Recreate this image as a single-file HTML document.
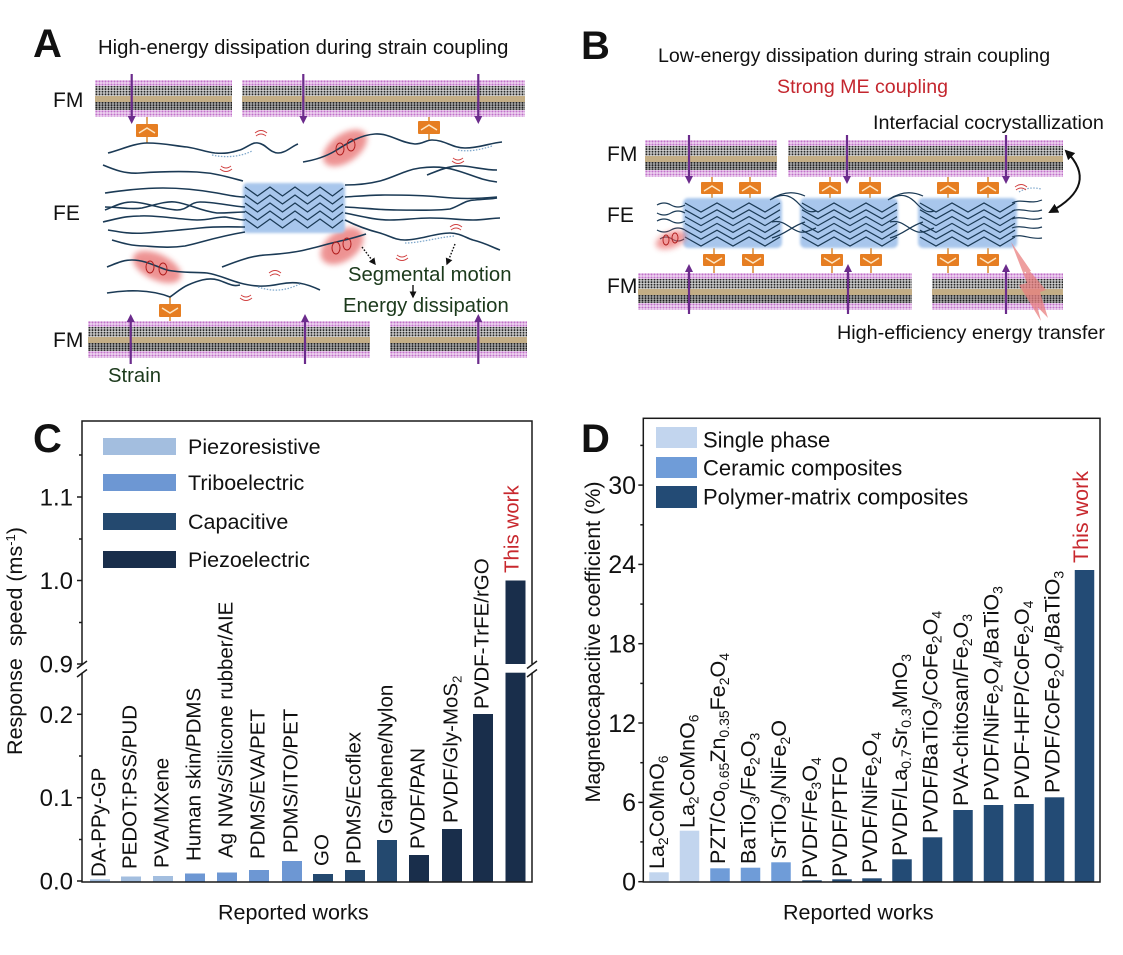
<!DOCTYPE html>
<html><head><meta charset="utf-8"><style>
html,body{margin:0;padding:0;background:#fff;}
svg{display:block;}
text{font-family:"Liberation Sans",Arial,sans-serif;fill:#111;}
</style></head><body>
<svg width="1123" height="955" viewBox="0 0 1123 955" xmlns="http://www.w3.org/2000/svg">
<defs>
<pattern id="pk" width="3" height="3" patternUnits="userSpaceOnUse"><rect width="3" height="3" fill="#efd6f1"/><circle cx="1.5" cy="1.5" r="1.05" fill="#c070c9"/></pattern>
<pattern id="dk" width="3" height="2.6" patternUnits="userSpaceOnUse"><rect width="3" height="2.6" fill="#d2d2d2"/><circle cx="1.5" cy="1.3" r="1" fill="#262626"/></pattern>
<pattern id="dk2" width="3" height="2.4" patternUnits="userSpaceOnUse"><rect width="3" height="2.4" fill="#b0b0b0"/><circle cx="1.5" cy="1.2" r="1" fill="#1a1a1a"/></pattern>
<filter id="bl" x="-20%" y="-20%" width="140%" height="140%"><feGaussianBlur stdDeviation="1.3"/></filter>
<filter id="bl2" x="-50%" y="-50%" width="200%" height="200%"><feGaussianBlur stdDeviation="3"/></filter>
<marker id="ah" viewBox="0 0 10 10" refX="8" refY="5" markerWidth="5" markerHeight="5" orient="auto-start-reverse"><path d="M0,0 L10,5 L0,10 z" fill="#111"/></marker>
</defs>

<!-- ================= PANEL A ================= -->
<text x="33" y="57" font-size="40" font-weight="bold">A</text>
<text x="98" y="54" font-size="20.3">High-energy dissipation during strain coupling</text>
<text x="53" y="107" font-size="21">FM</text>
<text x="53" y="220" font-size="21">FE</text>
<text x="53" y="347" font-size="21">FM</text>

<g transform="translate(95,80)"><rect width="137" height="7" fill="url(#pk)"/><rect y="6" width="137" height="11" fill="url(#dk)"/><rect y="16" width="137" height="7" fill="#c4ae86"/><rect y="22" width="137" height="9" fill="url(#dk2)"/><rect y="30" width="137" height="7" fill="url(#pk)"/></g>
<g transform="translate(242,80)"><rect width="283" height="7" fill="url(#pk)"/><rect y="6" width="283" height="11" fill="url(#dk)"/><rect y="16" width="283" height="7" fill="#c4ae86"/><rect y="22" width="283" height="9" fill="url(#dk2)"/><rect y="30" width="283" height="7" fill="url(#pk)"/></g>
<g transform="translate(88,321)"><rect width="282" height="7" fill="url(#pk)"/><rect y="6" width="282" height="11" fill="url(#dk)"/><rect y="16" width="282" height="7" fill="#c4ae86"/><rect y="22" width="282" height="9" fill="url(#dk2)"/><rect y="30" width="282" height="7" fill="url(#pk)"/></g>
<g transform="translate(390,321)"><rect width="137" height="7" fill="url(#pk)"/><rect y="6" width="137" height="11" fill="url(#dk)"/><rect y="16" width="137" height="7" fill="#c4ae86"/><rect y="22" width="137" height="9" fill="url(#dk2)"/><rect y="30" width="137" height="7" fill="url(#pk)"/></g>

<g stroke="#6b2b8c" stroke-width="2.2" fill="#6b2b8c">
<line x1="131.7" y1="74" x2="131.7" y2="117"/><polygon stroke="none" points="127.7,116 135.7,116 131.7,124"/>
<line x1="303.3" y1="74" x2="303.3" y2="117"/><polygon stroke="none" points="299.3,116 307.3,116 303.3,124"/>
<line x1="478.3" y1="74" x2="478.3" y2="117"/><polygon stroke="none" points="474.3,116 482.3,116 478.3,124"/>
<line x1="130.7" y1="364" x2="130.7" y2="321"/><polygon stroke="none" points="126.7,322 134.7,322 130.7,314"/>
<line x1="305" y1="364" x2="305" y2="321"/><polygon stroke="none" points="301,322 309,322 305,314"/>
<line x1="478.3" y1="364" x2="478.3" y2="321"/><polygon stroke="none" points="474.3,322 482.3,322 478.3,314"/>
</g>

<g stroke="#d9892f" stroke-width="1.5">
<line x1="147" y1="117" x2="147" y2="143"/><line x1="429" y1="117" x2="429" y2="140"/><line x1="170" y1="296" x2="170" y2="321"/>
</g>
<g fill="#e67e22">
<rect x="136" y="124" width="22" height="13" rx="1"/><rect x="418" y="121" width="22" height="13" rx="1"/><rect x="159" y="304" width="22" height="13" rx="1"/>
</g>
<g fill="none" stroke="#fde7c4" stroke-width="1.5">
<polyline points="139,133 147,128 155,133"/><polyline points="421,130 429,125 437,130"/><polyline points="162,308 170,313 178,308"/>
</g>

<g fill="#e24c4c" opacity="0.6" filter="url(#bl2)">
<ellipse cx="345" cy="148" rx="25" ry="14" transform="rotate(-35 345 148)"/>
<ellipse cx="342" cy="246" rx="24" ry="15" transform="rotate(-35 342 246)"/>
<ellipse cx="157" cy="267" rx="26" ry="13" transform="rotate(25 157 267)"/>
</g>

<rect x="243" y="183" width="102" height="50" rx="4" fill="#a8c6ec" filter="url(#bl)"/>
<g fill="none" stroke="#1b3a55" stroke-width="1.3">
<polyline points="245,187 257.5,196 270,187 282.5,196 295,187 307.5,196 320,187 332.5,196 343,188"/>
<polyline points="245,195 257.5,204 270,195 282.5,204 295,195 307.5,204 320,195 332.5,204 343,196"/>
<polyline points="245,203 257.5,212 270,203 282.5,212 295,203 307.5,212 320,203 332.5,212 343,204"/>
<polyline points="245,211 257.5,220 270,211 282.5,220 295,211 307.5,220 320,211 332.5,220 343,212"/>
<polyline points="245,219 257.5,228 270,219 282.5,228 295,219 307.5,228 320,219 332.5,228 343,220"/>
</g>

<g fill="none" stroke="#1b3a55" stroke-width="1.6">
<path d="M108,153 C120,150 135,143 147,143 C165,143 175,146 187,147 C200,149 205,152 215,153 C228,154 232,152 240,150 C248,147 252,142 258,143 C266,144 270,153 278,153 C286,153 292,146 298,144"/>
<path d="M303,162 C315,160 325,157 335,151 C348,143 360,135 375,134 C390,133 400,143 415,144 C423,144 426,140 432,140 C445,140 452,148 465,148 C480,148 490,143 502,142"/>
<path d="M103,165 C115,170 125,174 140,173 C155,172 175,171 197,172 C215,173 228,177 243,181"/>
<path d="M105,193 C120,191 140,188 163,188 C180,188 200,190 217,193 C228,195 236,197 245,197"/>
<path d="M105,210 C115,206 122,202 132,202 C145,202 160,209 177,210 C188,210 190,202 200,202 C215,202 230,206 245,207"/>
<path d="M105,207 C120,207 130,210 142,208 C155,205 165,201 175,202 C190,204 200,211 217,213 C228,213 238,212 245,212"/>
<path d="M103,222 C115,219 125,216 140,216 C155,215 175,219 197,220 C210,220 215,217 225,217 C233,218 238,220 245,220"/>
<path d="M108,230 C120,232 130,234 145,233 C160,232 180,230 200,228 C220,226 235,227 245,227"/>
<path d="M112,240 C122,243 132,246 145,246 C160,247 170,248 185,246 C200,243 215,237 245,232"/>
<path d="M345,185 C358,185 368,184 380,181 C395,177 405,170 420,168 C435,166 445,167 455,170 C470,174 480,180 497,182"/>
<path d="M427,175 C440,170 450,165 463,166 C475,167 485,170 497,170"/>
<path d="M345,197 C360,196 370,195 385,195 C400,195 420,195 440,197 C460,199 475,199 497,197"/>
<path d="M345,207 C365,208 380,210 397,210 C415,210 435,211 450,209 C460,206 465,200 475,200 C485,199 492,199 497,198"/>
<path d="M345,213 C360,216 375,220 390,220 C405,220 415,218 430,218 C450,218 460,220 473,220 C485,220 492,218 500,218"/>
<path d="M345,220 C355,225 368,230 380,233 C390,236 395,240 405,240 C420,240 435,233 450,233 C460,233 466,238 473,240 C485,243 492,247 500,250"/>
<path d="M222,267 C235,262 250,256 265,255 C280,254 290,253 300,251 C315,248 330,243 345,240 C353,238 360,236 366,234"/>
<path d="M107,267 C115,264 122,260 132,260 C145,260 155,266 167,270 C180,273 195,272 207,273 C220,275 228,280 240,283 C255,287 265,287 280,284 C295,281 305,283 320,290"/>
<path d="M107,293 C125,290 150,289 170,297 C176,293 181,288 188,285 C197,281 208,277 218,280 C228,283 232,287 240,285"/>
</g>
<g fill="none" stroke="#7fa8cc" stroke-width="1.3" stroke-dasharray="1.5 1.5">
<path d="M212,155 C225,158 240,157 252,151"/><path d="M258,287 C273,292 285,291 300,284"/>
<path d="M405,243 C420,243 440,237 455,236"/><path d="M458,150 C468,152 480,150 492,146"/>
</g>
<g fill="none" stroke="#d04040" stroke-width="0.9">
<path d="M256,136 q5,-4 10,0 M255,133 q6,-5 12,0"/><path d="M221,166 q5,4 10,0 M220,169 q6,5 12,0"/>
<path d="M453,158 q5,4 10,0 M452,161 q6,5 12,0"/><path d="M397,255 q5,4 10,0 M396,258 q6,5 12,0"/>
<path d="M451,230 q5,-4 10,0 M450,227 q6,-5 12,0"/><path d="M270,276 q5,-4 10,0 M269,273 q6,-5 12,0"/>
<path d="M241,295 q5,4 10,0 M240,298 q6,5 12,0"/>
</g>
<g fill="none" stroke="#b01c1c" stroke-width="1">
<ellipse cx="340" cy="149" rx="4" ry="6"/><ellipse cx="351" cy="145" rx="4" ry="6"/>
<ellipse cx="336" cy="248" rx="4" ry="6"/><ellipse cx="347" cy="244" rx="4" ry="6"/>
<ellipse cx="150" cy="267" rx="4" ry="6"/><ellipse cx="163" cy="269" rx="4" ry="6"/>
</g>
<g stroke="#111" stroke-width="1.4" fill="none">
<path d="M362,247 L375,264" stroke-dasharray="1.6 1.6" marker-end="url(#ah)"/>
<path d="M455,244 L447,264" stroke-dasharray="1.6 1.6" marker-end="url(#ah)"/>
<path d="M413,285 L413,297" marker-end="url(#ah)"/>
</g>
<text x="348" y="281" font-size="20.3" style="fill:#1c3a1c">Segmental motion</text>
<text x="343" y="312" font-size="20.3" style="fill:#1c3a1c">Energy dissipation</text>
<text x="108" y="382" font-size="20.3" style="fill:#1c3a1c">Strain</text>

<!-- ================= PANEL B ================= -->
<text x="581" y="59" font-size="40" font-weight="bold">B</text>
<text x="658" y="62" font-size="19.6">Low-energy dissipation during strain coupling</text>
<text x="862.5" y="93" font-size="19.6" text-anchor="middle" style="fill:#c4262e">Strong ME coupling</text>
<text x="873" y="129" font-size="19.8">Interfacial cocrystallization</text>
<text x="607" y="161" font-size="21">FM</text>
<text x="607" y="222" font-size="21">FE</text>
<text x="607" y="293" font-size="21">FM</text>
<text x="837" y="339" font-size="19.8">High-efficiency energy transfer</text>

<g transform="translate(645,140)"><rect width="132" height="7" fill="url(#pk)"/><rect y="6" width="132" height="11" fill="url(#dk)"/><rect y="16" width="132" height="7" fill="#c4ae86"/><rect y="22" width="132" height="9" fill="url(#dk2)"/><rect y="30" width="132" height="7" fill="url(#pk)"/></g>
<g transform="translate(788,140)"><rect width="275" height="7" fill="url(#pk)"/><rect y="6" width="275" height="11" fill="url(#dk)"/><rect y="16" width="275" height="7" fill="#c4ae86"/><rect y="22" width="275" height="9" fill="url(#dk2)"/><rect y="30" width="275" height="7" fill="url(#pk)"/></g>
<g transform="translate(638,273)"><rect width="274" height="7" fill="url(#pk)"/><rect y="6" width="274" height="11" fill="url(#dk)"/><rect y="16" width="274" height="7" fill="#c4ae86"/><rect y="22" width="274" height="9" fill="url(#dk2)"/><rect y="30" width="274" height="7" fill="url(#pk)"/></g>
<g transform="translate(932,273)"><rect width="131" height="7" fill="url(#pk)"/><rect y="6" width="131" height="11" fill="url(#dk)"/><rect y="16" width="131" height="7" fill="#c4ae86"/><rect y="22" width="131" height="9" fill="url(#dk2)"/><rect y="30" width="131" height="7" fill="url(#pk)"/></g>

<g stroke="#d9892f" stroke-width="1.5">
<line x1="712" y1="177" x2="712" y2="198"/><line x1="750" y1="177" x2="750" y2="198"/><line x1="830" y1="177" x2="830" y2="198"/><line x1="870" y1="177" x2="870" y2="198"/><line x1="948" y1="177" x2="948" y2="198"/><line x1="988" y1="177" x2="988" y2="198"/>
<line x1="714" y1="248" x2="714" y2="273"/><line x1="753" y1="248" x2="753" y2="273"/><line x1="832" y1="248" x2="832" y2="273"/><line x1="871" y1="248" x2="871" y2="273"/><line x1="948" y1="248" x2="948" y2="273"/><line x1="988" y1="248" x2="988" y2="273"/>
</g>
<g fill="#e67e22">
<rect x="701" y="182" width="22" height="12" rx="1"/><rect x="739" y="182" width="22" height="12" rx="1"/><rect x="819" y="182" width="22" height="12" rx="1"/><rect x="859" y="182" width="22" height="12" rx="1"/><rect x="937" y="182" width="22" height="12" rx="1"/><rect x="977" y="182" width="22" height="12" rx="1"/>
<rect x="703" y="254" width="22" height="12" rx="1"/><rect x="742" y="254" width="22" height="12" rx="1"/><rect x="821" y="254" width="22" height="12" rx="1"/><rect x="860" y="254" width="22" height="12" rx="1"/><rect x="937" y="254" width="22" height="12" rx="1"/><rect x="977" y="254" width="22" height="12" rx="1"/>
</g>
<g fill="none" stroke="#fde7c4" stroke-width="1.4">
<polyline points="704,191 712,186 720,191"/><polyline points="742,191 750,186 758,191"/><polyline points="822,191 830,186 838,191"/><polyline points="862,191 870,186 878,191"/><polyline points="940,191 948,186 956,191"/><polyline points="980,191 988,186 996,191"/>
<polyline points="706,258 714,263 722,258"/><polyline points="745,258 753,263 761,258"/><polyline points="824,258 832,263 840,258"/><polyline points="863,258 871,263 879,258"/><polyline points="940,258 948,263 956,258"/><polyline points="980,258 988,263 996,258"/>
</g>

<g fill="#a8c6ec" filter="url(#bl)">
<rect x="683" y="198" width="99" height="50" rx="5"/><rect x="800" y="198" width="98" height="50" rx="5"/><rect x="918" y="198" width="99" height="50" rx="5"/>
</g>
<g fill="none" stroke="#1b3a55" stroke-width="1.2">
<g id="zz">
<polyline points="685,203 701,212 717,203 733,212 749,203 765,212 780,203"/>
<polyline points="685,209.8 701,218.8 717,209.8 733,218.8 749,209.8 765,218.8 780,209.8"/>
<polyline points="685,216.6 701,225.6 717,216.6 733,225.6 749,216.6 765,225.6 780,216.6"/>
<polyline points="685,223.4 701,232.4 717,223.4 733,232.4 749,223.4 765,232.4 780,223.4"/>
<polyline points="685,230.2 701,239.2 717,230.2 733,239.2 749,230.2 765,239.2 780,230.2"/>
<polyline points="685,237 701,246 717,237 733,246 749,237 765,246 780,237"/>
</g>
<use href="#zz" x="117"/>
<use href="#zz" x="235"/>
</g>
<g fill="none" stroke="#1b3a55" stroke-width="1.2">
<path d="M657,205 q7,-4 14,0 t14,0"/><path d="M657,213 q7,4 14,0 t14,0"/><path d="M657,221 q7,-4 14,0 t14,0"/><path d="M657,230 q7,4 14,0 t14,0"/><path d="M660,239 q6,-4 12,0 t12,0"/>
<path d="M772,199 C784,192 792,196 800,205 C806,211 810,213 816,211"/><path d="M772,222 C785,219 790,230 800,232 C806,233 810,230 816,228"/><path d="M772,238 C786,234 792,226 805,222"/><path d="M770,200 C780,193 792,190 805,196"/>
<path d="M890,199 C902,192 910,196 918,205 C924,211 928,213 934,211"/><path d="M890,222 C903,219 908,230 918,232 C924,233 928,230 934,228"/><path d="M890,238 C904,234 910,226 923,222"/><path d="M888,200 C898,193 910,190 923,196"/>
<path d="M1012,203 C1022,198 1030,205 1042,200"/><path d="M1012,211 C1022,207 1030,214 1042,210"/><path d="M1012,219 C1022,215 1030,222 1042,218"/><path d="M1012,228 C1022,224 1030,231 1042,227"/><path d="M1012,237 C1022,233 1030,240 1042,238"/>
</g>
<path d="M1019,192 q10,-6 22,-3" fill="none" stroke="#7fa8cc" stroke-width="1.2" stroke-dasharray="1.5 1.5"/>
<path d="M1016,190 q5,-4 10,0 M1015,187 q6,-5 12,0" fill="none" stroke="#d04040" stroke-width="0.9"/>
<ellipse cx="671" cy="240" rx="16" ry="8" transform="rotate(-20 671 240)" fill="#e85858" opacity="0.6" filter="url(#bl2)"/>
<g fill="none" stroke="#b01c1c" stroke-width="0.9"><ellipse cx="666" cy="240" rx="3" ry="5"/><ellipse cx="675" cy="238" rx="3" ry="5"/></g>
<g stroke="#6b2b8c" stroke-width="2.2" fill="#6b2b8c">
<line x1="689" y1="135" x2="689" y2="177"/><polygon stroke="none" points="685,176 693,176 689,184"/>
<line x1="847" y1="135" x2="847" y2="177"/><polygon stroke="none" points="843,176 851,176 847,184"/>
<line x1="1006" y1="135" x2="1006" y2="177"/><polygon stroke="none" points="1002,176 1010,176 1006,184"/>
<line x1="689" y1="314" x2="689" y2="271"/><polygon stroke="none" points="685,272 693,272 689,264"/>
<line x1="848" y1="314" x2="848" y2="271"/><polygon stroke="none" points="844,272 852,272 848,264"/>
<line x1="1006" y1="314" x2="1006" y2="271"/><polygon stroke="none" points="1002,272 1010,272 1006,264"/>
</g>
<g fill="#e98080" opacity="0.75">
<polygon points="1011,242 1027,283 1019,285 1041,321 1033,289 1041,287 1024,272 1031,271"/>
<polygon points="1022,262 1034,295 1028,297 1048,318 1040,292 1046,290 1034,276"/>
</g>
<path d="M1066,151 Q1100,185 1050,212" fill="none" stroke="#111" stroke-width="2" marker-start="url(#ah)" marker-end="url(#ah)"/>

<!-- ================= PANEL C ================= -->
<text x="33" y="452" font-size="40" font-weight="bold">C</text>
<g>
<rect x="90" y="879.3" width="20" height="2.7" fill="#a3bedf"/>
<rect x="121" y="876.5" width="20" height="5.5" fill="#a3bedf"/>
<rect x="153" y="876" width="20" height="6" fill="#a3bedf"/>
<rect x="185" y="873.5" width="20" height="8.5" fill="#6d97d3"/>
<rect x="217" y="872.5" width="20" height="9.5" fill="#6d97d3"/>
<rect x="249" y="870" width="20" height="12" fill="#6d97d3"/>
<rect x="282" y="861" width="20" height="21" fill="#6d97d3"/>
<rect x="313" y="874" width="20" height="8" fill="#24496f"/>
<rect x="345" y="870" width="20" height="12" fill="#24496f"/>
<rect x="377" y="840" width="20" height="42" fill="#24496f"/>
<rect x="409" y="855" width="20" height="27" fill="#192e4b"/>
<rect x="442" y="829" width="20" height="53" fill="#192e4b"/>
<rect x="473" y="714" width="20" height="168" fill="#192e4b"/>
<rect x="505.5" y="672.7" width="20" height="209.3" fill="#192e4b"/>
<rect x="505.5" y="580.5" width="20" height="83.5" fill="#192e4b"/>
</g>
<g stroke="#1a1a1a" stroke-width="1.5" fill="none">
<path d="M82,664 L82,421 L532,421 L532,664"/>
<path d="M82,672.7 L82,882 L532,882 L532,672.7"/>
<line x1="77" y1="668.5" x2="87" y2="661"/><line x1="77" y1="677" x2="87" y2="669.5"/>
<line x1="527" y1="668.5" x2="537" y2="661"/><line x1="527" y1="677" x2="537" y2="669.5"/>
<line x1="77" y1="497" x2="82" y2="497"/><line x1="77" y1="580.5" x2="82" y2="580.5"/><line x1="77" y1="664" x2="82" y2="664"/>
<line x1="77" y1="714.3" x2="82" y2="714.3"/><line x1="77" y1="797.7" x2="82" y2="797.7"/><line x1="77" y1="881" x2="82" y2="881"/>
<line x1="79" y1="455" x2="82" y2="455"/><line x1="79" y1="539" x2="82" y2="539"/><line x1="79" y1="622.5" x2="82" y2="622.5"/>
<line x1="79" y1="756" x2="82" y2="756"/><line x1="79" y1="839.5" x2="82" y2="839.5"/>
</g>
<g font-size="24" text-anchor="end">
<text x="73" y="505.5">1.1</text><text x="73" y="589">1.0</text><text x="73" y="672.5">0.9</text>
<text x="73" y="722.8">0.2</text><text x="73" y="806.2">0.1</text><text x="73" y="889.5">0.0</text>
</g>
<text transform="translate(22,641) rotate(-90)" font-size="21.5" text-anchor="middle">Response&#160; speed (ms<tspan font-size="13" dy="-7">-1</tspan><tspan dy="7">)</tspan></text>
<text x="218" y="919.5" font-size="21.5">Reported works</text>
<rect x="103" y="438" width="73" height="17" fill="#a3bedf"/>
<rect x="103" y="474" width="73" height="17" fill="#6d97d3"/>
<rect x="103" y="513" width="73" height="17" fill="#24496f"/>
<rect x="103" y="551" width="73" height="17" fill="#192e4b"/>
<g font-size="21.5">
<text x="188" y="454">Piezoresistive</text><text x="188" y="490">Triboelectric</text>
<text x="188" y="529">Capacitive</text><text x="188" y="567">Piezoelectric</text>
</g>
<g font-size="20.5">
<text transform="translate(105.5,877) rotate(-90)">DA-PPy-GP</text>
<text transform="translate(136.5,869) rotate(-90)">PEDOT:PSS/PUD</text>
<text transform="translate(168.5,868) rotate(-90)">PVA/MXene</text>
<text transform="translate(200.5,861) rotate(-90)">Human skin/PDMS</text>
<text transform="translate(232.5,858) rotate(-90)">Ag NWs/Silicone rubber/AIE</text>
<text transform="translate(264.5,859) rotate(-90)">PDMS/EVA/PET</text>
<text transform="translate(297.5,853) rotate(-90)">PDMS/ITO/PET</text>
<text transform="translate(328.5,866) rotate(-90)">GO</text>
<text transform="translate(360.5,864) rotate(-90)">PDMS/Ecoflex</text>
<text transform="translate(392.5,834) rotate(-90)">Graphene/Nylon</text>
<text transform="translate(424.5,849) rotate(-90)">PVDF/PAN</text>
<text transform="translate(457.5,823) rotate(-90)">PVDF/Gly-MoS<tspan font-size="13" dy="4">2</tspan></text>
<text transform="translate(488.5,709) rotate(-90)">PVDF-TrFE/rGO</text>
<text transform="translate(518.5,573) rotate(-90)" style="fill:#c8282e">This work</text>
</g>

<!-- ================= PANEL D ================= -->
<text x="581" y="452" font-size="40" font-weight="bold">D</text>
<g>
<rect x="649.25" y="872.3" width="19.5" height="9.7" fill="#c2d5ee"/>
<rect x="679.75" y="830.7" width="19.5" height="51.3" fill="#c2d5ee"/>
<rect x="710.25" y="868.3" width="19.5" height="13.7" fill="#6f9cd8"/>
<rect x="740.75" y="867.7" width="19.5" height="14.3" fill="#6f9cd8"/>
<rect x="771.25" y="862.3" width="19.5" height="19.7" fill="#6f9cd8"/>
<rect x="802.25" y="880.3" width="19.5" height="1.7" fill="#234b75"/>
<rect x="832.25" y="879.3" width="19.5" height="2.7" fill="#234b75"/>
<rect x="862.25" y="878.3" width="19.5" height="3.7" fill="#234b75"/>
<rect x="892.25" y="859.3" width="19.5" height="22.7" fill="#234b75"/>
<rect x="922.75" y="837.3" width="19.5" height="44.7" fill="#234b75"/>
<rect x="953.25" y="810" width="19.5" height="72" fill="#234b75"/>
<rect x="983.75" y="805" width="19.5" height="77" fill="#234b75"/>
<rect x="1014.25" y="804" width="19.5" height="78" fill="#234b75"/>
<rect x="1044.75" y="797.3" width="19.5" height="84.7" fill="#234b75"/>
<rect x="1074.75" y="570" width="19.5" height="312" fill="#234b75"/>
</g>
<g stroke="#1a1a1a" stroke-width="1.5" fill="none">
<rect x="643.3" y="418.3" width="456.7" height="463.7"/>
<line x1="638.3" y1="881.7" x2="643.3" y2="881.7"/><line x1="638.3" y1="802.4" x2="643.3" y2="802.4"/><line x1="638.3" y1="723" x2="643.3" y2="723"/>
<line x1="638.3" y1="643.7" x2="643.3" y2="643.7"/><line x1="638.3" y1="564.4" x2="643.3" y2="564.4"/><line x1="638.3" y1="485.1" x2="643.3" y2="485.1"/>
<line x1="640.3" y1="841.9" x2="643.3" y2="841.9"/><line x1="640.3" y1="762.7" x2="643.3" y2="762.7"/><line x1="640.3" y1="683.4" x2="643.3" y2="683.4"/>
<line x1="640.3" y1="604.1" x2="643.3" y2="604.1"/><line x1="640.3" y1="524.8" x2="643.3" y2="524.8"/><line x1="640.3" y1="445.4" x2="643.3" y2="445.4"/>
</g>
<g font-size="25" text-anchor="end">
<text x="636" y="890.5">0</text><text x="636" y="811.2">6</text><text x="636" y="731.8">12</text>
<text x="636" y="652.5">18</text><text x="636" y="573.2">24</text><text x="636" y="493.9">30</text>
</g>
<text transform="translate(600,642) rotate(-90)" font-size="21.5" text-anchor="middle">Magnetocapacitive coefficient (%)</text>
<text x="783" y="919.5" font-size="21.5">Reported works</text>
<rect x="656" y="427" width="41" height="21" fill="#c2d5ee"/>
<rect x="656" y="457" width="41" height="21" fill="#6f9cd8"/>
<rect x="656" y="486" width="41" height="22" fill="#234b75"/>
<g font-size="22">
<text x="703" y="447.5">Single phase</text><text x="703" y="475.5">Ceramic composites</text><text x="703" y="504.5">Polymer-matrix composites</text>
</g>
<g font-size="21.5">
<text transform="translate(664,869) rotate(-90)">La<tspan font-size="14" dy="4">2</tspan><tspan dy="-4">CoMnO</tspan><tspan font-size="14" dy="4">6</tspan></text>
<text transform="translate(694.5,828) rotate(-90)">La<tspan font-size="14" dy="4">2</tspan><tspan dy="-4">CoMnO</tspan><tspan font-size="14" dy="4">6</tspan></text>
<text transform="translate(725,864) rotate(-90)">PZT/Co<tspan font-size="14" dy="4">0.65</tspan><tspan dy="-4">Zn</tspan><tspan font-size="14" dy="4">0.35</tspan><tspan dy="-4">Fe</tspan><tspan font-size="14" dy="4">2</tspan><tspan dy="-4">O</tspan><tspan font-size="14" dy="4">4</tspan></text>
<text transform="translate(755.5,864) rotate(-90)">BaTiO<tspan font-size="14" dy="4">3</tspan><tspan dy="-4">/Fe</tspan><tspan font-size="14" dy="4">2</tspan><tspan dy="-4">O</tspan><tspan font-size="14" dy="4">3</tspan></text>
<text transform="translate(786,859) rotate(-90)">SrTiO<tspan font-size="14" dy="4">3</tspan><tspan dy="-4">/NiFe</tspan><tspan font-size="14" dy="4">2</tspan><tspan dy="-4">O</tspan></text>
<text transform="translate(817,878) rotate(-90)">PVDF/Fe<tspan font-size="14" dy="4">3</tspan><tspan dy="-4">O</tspan><tspan font-size="14" dy="4">4</tspan></text>
<text transform="translate(847,877) rotate(-90)">PVDF/PTFO</text>
<text transform="translate(877,873) rotate(-90)">PVDF/NiFe<tspan font-size="14" dy="4">2</tspan><tspan dy="-4">O</tspan><tspan font-size="14" dy="4">4</tspan></text>
<text transform="translate(907,856) rotate(-90)">PVDF/La<tspan font-size="14" dy="4">0.7</tspan><tspan dy="-4">Sr</tspan><tspan font-size="14" dy="4">0.3</tspan><tspan dy="-4">MnO</tspan><tspan font-size="14" dy="4">3</tspan></text>
<text transform="translate(937.5,833) rotate(-90)">PVDF/BaTiO<tspan font-size="14" dy="4">3</tspan><tspan dy="-4">/CoFe</tspan><tspan font-size="14" dy="4">2</tspan><tspan dy="-4">O</tspan><tspan font-size="14" dy="4">4</tspan></text>
<text transform="translate(968,806) rotate(-90)">PVA-chitosan/Fe<tspan font-size="14" dy="4">2</tspan><tspan dy="-4">O</tspan><tspan font-size="14" dy="4">3</tspan></text>
<text transform="translate(998.5,801) rotate(-90)">PVDF/NiFe<tspan font-size="14" dy="4">2</tspan><tspan dy="-4">O</tspan><tspan font-size="14" dy="4">4</tspan><tspan dy="-4">/BaTiO</tspan><tspan font-size="14" dy="4">3</tspan></text>
<text transform="translate(1029,799) rotate(-90)">PVDF-HFP/CoFe<tspan font-size="14" dy="4">2</tspan><tspan dy="-4">O</tspan><tspan font-size="14" dy="4">4</tspan></text>
<text transform="translate(1059.5,793) rotate(-90)">PVDF/CoFe<tspan font-size="14" dy="4">2</tspan><tspan dy="-4">O</tspan><tspan font-size="14" dy="4">4</tspan><tspan dy="-4">/BaTiO</tspan><tspan font-size="14" dy="4">3</tspan></text>
<text transform="translate(1088,563) rotate(-90)" style="fill:#c8282e">This work</text>
</g>
</svg>
</body></html>
